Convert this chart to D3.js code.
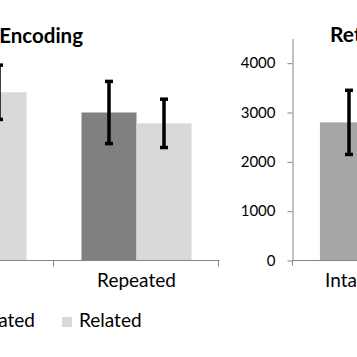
<!DOCTYPE html>
<html><head><meta charset="utf-8">
<script src="https://cdn.jsdelivr.net/npm/d3@7"></script>
<style>body{margin:0;background:#fff;overflow:hidden}svg{display:block}text{font-family:Lato,"Open Sans",sans-serif;fill:#000}</style>
</head><body><script>
// ---- data ----
const leftCategories = ["Intact", "Repeated"];
const leftSeries = ["Unrelated", "Related"];
const unrelatedValues = [3200, 3000];
const unrelatedErrors = [600, 630];
const relatedValues = [3410, 2780];
const relatedErrors = [550, 490];
const rightCategories = ["Intact", "Repeated"];
const rightValues = [2800, 2900];
const rightErrors = [650, 600];
const yTicks = [0, 1000, 2000, 3000, 4000];
const leftTitle = "Encoding";
const rightTitle = "Retrieval";

const W = 357, H = 357;
const colors = {Unrelated: "#808080", Related: "#d9d9d9", right: "#a6a6a6"};
const axisColor = "#868686";

const svg = d3.select("body").append("svg").attr("width", W).attr("height", H);

const y = d3.scaleLinear().domain([0, 4500]).range([260.5, 38.5]);

// ---- left panel ----
const groupW = 165;
const xL = d3.scaleBand().domain(leftCategories).range([54 - groupW, 219]).paddingInner(0).paddingOuter(0);
const xSub = d3.scaleBand().domain(leftSeries).range([0, xL.bandwidth()]).paddingInner(0).paddingOuter(0.5);

const leftData = leftCategories.flatMap((c, i) => [
  {cat: c, s: "Unrelated", v: unrelatedValues[i], e: unrelatedErrors[i]},
  {cat: c, s: "Related", v: relatedValues[i], e: relatedErrors[i]}
]);

const gL = svg.append("g");
gL.selectAll("rect").data(leftData).join("rect")
  .attr("x", d => xL(d.cat) + xSub(d.s))
  .attr("width", xSub.bandwidth())
  .attr("y", d => y(d.v))
  .attr("height", d => y(0) - y(d.v))
  .attr("fill", d => colors[d.s]);

function errorBars(g, data, xc) {
  const eg = g.append("g").attr("stroke", "#000").attr("stroke-width", 3.5);
  eg.selectAll("line.v").data(data).join("line").attr("class", "v")
    .attr("x1", xc).attr("x2", xc)
    .attr("y1", d => y(d.v + d.e)).attr("y2", d => y(d.v - d.e));
  eg.selectAll("line.t").data(data).join("line").attr("class", "t")
    .attr("x1", d => xc(d) - 4).attr("x2", d => xc(d) + 4)
    .attr("y1", d => y(d.v + d.e)).attr("y2", d => y(d.v + d.e)).attr("stroke-width", 3.5);
  eg.selectAll("line.b").data(data).join("line").attr("class", "b")
    .attr("x1", d => xc(d) - 4).attr("x2", d => xc(d) + 4)
    .attr("y1", d => y(d.v - d.e)).attr("y2", d => y(d.v - d.e)).attr("stroke-width", 3.5);
}
errorBars(gL, leftData, d => xL(d.cat) + xSub(d.s) + xSub.bandwidth() / 2);

// left x axis
const base = Math.round(y(0)) - 0.5;
gL.append("line").attr("x1", xL.range()[0]).attr("x2", xL.range()[1] + 0.5)
  .attr("y1", base).attr("y2", base).attr("stroke", axisColor);
gL.selectAll("line.tk").data(leftCategories).join("line").attr("class", "tk")
  .attr("x1", d => Math.round(xL(d) + xL.bandwidth()) - 0.5)
  .attr("x2", d => Math.round(xL(d) + xL.bandwidth()) - 0.5)
  .attr("y1", base).attr("y2", base + 6).attr("stroke", axisColor);
gL.selectAll("text.cat").data(leftCategories).join("text").attr("class", "cat")
  .attr("x", d => xL(d) + xL.bandwidth() / 2).attr("y", 287)
  .attr("text-anchor", "middle").attr("font-size", 19).text(d => d);
gL.append("text").attr("x", 83).attr("y", 43).attr("text-anchor", "end")
  .attr("font-size", 20.5).attr("font-weight", "bold").text(leftTitle);

// legend
const lg = svg.append("g");
lg.append("text").attr("x", 35).attr("y", 327).attr("text-anchor", "end").attr("font-size", 19).text(leftSeries[0]);
lg.append("rect").attr("x", -2).attr("y", 317).attr("width", 10).attr("height", 10).attr("fill", colors.Unrelated).attr("transform", "translate(-80,0)");
lg.append("rect").attr("x", 62).attr("y", 317).attr("width", 10).attr("height", 10).attr("fill", colors.Related);
lg.append("text").attr("x", 79).attr("y", 327).attr("font-size", 19).text(leftSeries[1]);

// ---- right panel ----
const axX = 292.5;
const xR = d3.scaleBand().domain(rightCategories).range([292, 292 + 114 * rightCategories.length]).paddingInner(0.49).paddingOuter(0.245);
const rightData = rightCategories.map((c, i) => ({cat: c, v: rightValues[i], e: rightErrors[i]}));
const gR = svg.append("g");
gR.selectAll("rect").data(rightData).join("rect")
  .attr("x", d => xR(d.cat)).attr("width", xR.bandwidth())
  .attr("y", d => y(d.v)).attr("height", d => y(0) - y(d.v)).attr("fill", colors.right);
errorBars(gR, rightData, d => xR(d.cat) + xR.bandwidth() / 2);

const yAxis = d3.axisLeft(y).tickValues(yTicks).tickSize(5).tickSizeOuter(0).tickPadding(12).tickFormat(d3.format("d"));
const ya = gR.append("g").attr("transform", `translate(${axX},0)`).call(yAxis);
ya.select(".domain").attr("stroke", axisColor);
ya.selectAll(".tick line").attr("stroke", axisColor);
ya.selectAll(".tick text").attr("font-size", 15).attr("font-family", "Lato,sans-serif").attr("fill", "#000");
gR.append("line").attr("x1", axX).attr("x2", W).attr("y1", base).attr("y2", base).attr("stroke", axisColor);
gR.append("line").attr("x1", axX).attr("x2", axX).attr("y1", base).attr("y2", base + 5).attr("stroke", axisColor);
gR.selectAll("text.cat").data(rightCategories).join("text").attr("class", "cat")
  .attr("x", d => xR(d) + xR.bandwidth() / 2).attr("y", 287)
  .attr("text-anchor", "middle").attr("font-size", 19).text(d => d);
gR.append("text").attr("x", 330).attr("y", 42).attr("font-size", 21).attr("font-weight", "bold").text(rightTitle);
</script></body></html>
